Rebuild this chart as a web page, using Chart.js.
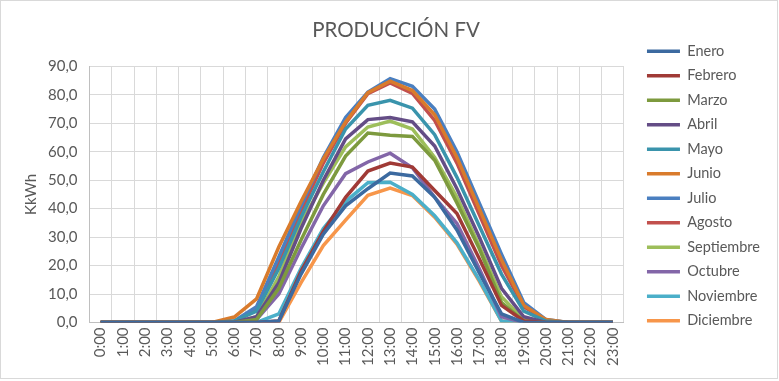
<!DOCTYPE html>
<html lang="es">
<head>
<meta charset="UTF-8">
<title>Producción FV</title>
<script src="https://cdn.jsdelivr.net/npm/chart.js"></script>
<style>
  body { margin: 0; background: #fff; }
  #box { position: absolute; left: 0; top: 0; width: 776px; height: 377px; border: 1px solid #d9d9d9; }
</style>
</head>
<body>
<div id="box"><canvas id="fvChart" width="776" height="377"></canvas></div>
<script>
// horas del día
const horas = ['0:00','1:00','2:00','3:00','4:00','5:00','6:00','7:00','8:00','9:00','10:00','11:00',
  '12:00','13:00','14:00','15:00','16:00','17:00','18:00','19:00','20:00','21:00','22:00','23:00'];

// producción horaria media (kWh) por mes
const enero      = [0,0,0,0,0,0,0,0,0.5,17,31,41,47,52.5,51.5,44,32.5,17.5,3,0,0,0,0,0];
const febrero    = [0,0,0,0,0,0,0,0,0.5,18,32,44,53.2,56,54.6,46.4,38.3,22.5,6,0.5,0,0,0,0];
const marzo      = [0,0,0,0,0,0,0,1,12,29,45,58.5,66.6,65.8,65.4,57,42,26,7,0.5,0,0,0,0];
const abril      = [0,0,0,0,0,0,0,2,14,33,50,64.5,71.3,72,70.5,62,47,30,12,2,0,0,0,0];
const mayo       = [0,0,0,0,0,0,0.5,4,19,37,53,68,76.3,78.1,75.3,66,51,34,17,4,0.5,0,0,0];
const junio      = [0,0,0,0,0,0,1.9,8.3,26.5,42.5,57.5,70.5,80.8,84.8,81.5,73,58,40,22,6,1,0,0,0];
const julio      = [0,0,0,0,0,0,0.5,5.5,23,41,58,72,81,85.7,83,75,60,42,24,7,1,0,0,0];
const agosto     = [0,0,0,0,0,0,0.3,4.5,21,39,56,70,80.4,84.2,80.5,71,56,38,20,5.5,0.8,0,0,0];
const septiembre = [0,0,0,0,0,0,0,2,16,35,49,61.7,68.7,70.8,68,58,44,27,9,1,0,0,0,0];
const octubre    = [0,0,0,0,0,0,0,1,10,26,41,52.3,56.4,59.5,54.4,44,34.8,19,2,0,0,0,0,0];
const noviembre  = [0,0,0,0,0,0,0,0,3,19,33,42.5,49.1,49.3,45,37.5,28,15,0.5,0,0,0,0,0];
const diciembre  = [0,0,0,0,0,0,0,0,0,14,27,36,44.7,47.2,44.6,37,27.5,14.5,0.5,0,0,0,0,0];

const series = [
  ['Enero', enero, '#3c6aa0'],
  ['Febrero', febrero, '#a03a36'],
  ['Marzo', marzo, '#7d9a3e'],
  ['Abril', abril, '#644d86'],
  ['Mayo', mayo, '#3a94ac'],
  ['Junio', junio, '#d97b2c'],
  ['Julio', julio, '#4a7fc0'],
  ['Agosto', agosto, '#c2504d'],
  ['Septiembre', septiembre, '#9dbe5a'],
  ['Octubre', octubre, '#8366a8'],
  ['Noviembre', noviembre, '#4bafc9'],
  ['Diciembre', diciembre, '#f7964a']
];

const gris = '#595959';
Chart.defaults.font.family = 'Lato, "Liberation Sans", sans-serif';
Chart.defaults.color = gris;

// separa la leyenda del área del gráfico sin tocar el espaciado vertical
const GAP = 13;
const legendGap = {
  id: 'legendGap',
  beforeLayout(chart) {
    const lg = chart.legend;
    if (!lg || lg._gap) return;
    lg._gap = true;
    const fit = lg.fit;
    lg.fit = function () { fit.call(this); this.width += GAP; };
    const draw = lg.draw;
    lg.draw = function () {
      this.ctx.save();
      this.ctx.translate(GAP, 0);
      draw.call(this);
      this.ctx.restore();
    };
  }
};

new Chart(document.getElementById('fvChart'), {
  type: 'line',
  data: {
    labels: horas,
    datasets: series.map(([nombre, datos, color]) => ({
      label: nombre,
      data: datos,
      borderColor: color,
      backgroundColor: color,
      borderWidth: 3.5,
      pointRadius: 0,
      fill: false,
      tension: 0
    }))
  },
  plugins: [legendGap],
  options: {
    responsive: false,
    animation: false,
    layout: { padding: { left: 21, right: 7, top: 0, bottom: 7 } },
    plugins: {
      title: {
        display: true,
        text: 'PRODUCCIÓN FV',
        color: gris,
        font: { size: 20.5, weight: 'normal' },
        padding: { top: 17, bottom: 23.8 }
      },
      legend: {
        position: 'right',
        align: 'center',
        labels: {
          usePointStyle: true,
          pointStyle: 'line',
          pointStyleWidth: 33,
          font: { size: 14.5 },
          color: gris,
          padding: 10
        }
      },
      tooltip: { enabled: false }
    },
    scales: {
      x: {
        offset: true,
        grid: { offset: true, color: '#d9d9d9', drawTicks: false },
        border: { color: '#bfbfbf' },
        ticks: { minRotation: 90, maxRotation: 90, font: { size: 15 }, padding: 5, autoSkip: false }
      },
      y: {
        min: 0,
        max: 90,
        grid: { color: '#d9d9d9', drawTicks: false },
        border: { color: '#bfbfbf' },
        ticks: {
          stepSize: 10,
          font: { size: 15 },
          padding: 12,
          callback: v => v.toFixed(1).replace('.', ',')
        },
        title: { display: true, text: 'KkWh', font: { size: 15 }, color: gris, padding: { top: 0, bottom: -4 } }
      }
    }
  }
});
</script>
</body>
</html>
